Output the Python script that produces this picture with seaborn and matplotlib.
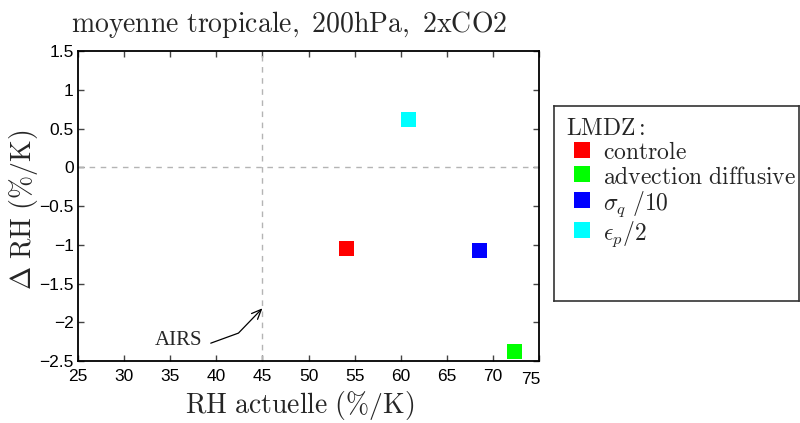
import matplotlib
matplotlib.use('Agg')
import matplotlib.pyplot as plt
import matplotlib.transforms as mtransforms
import seaborn as sns
import pandas as pd

# ---- data ----
series_labels = [r'$\mathrm{controle}$',
                 r'$\mathrm{advection\ diffusive}$',
                 r'$\sigma_q\ /10$',
                 r'$\epsilon_p/2$']
rh_actuelle = [54.1, 72.3, 68.5, 60.8]
delta_rh = [-1.05, -2.38, -1.07, 0.62]
colors = ['#ff0000', '#00ff00', '#0000ff', '#00ffff']
airs_rh = 45.0
airs_arrow_tip = -1.82
xticks = [25, 30, 35, 40, 45, 50, 55, 60, 65, 70, 75]
xtick_labels = ['25', '30', '35', '40', '45', '50', '55', '60', '65', '70', '75']
yticks = [-2.5, -2, -1.5, -1, -0.5, 0, 0.5, 1, 1.5]
ytick_labels = ['\u22122.5', '\u22122', '\u22121.5', '\u22121', '\u22120.5', '0', '0.5', '1', '1.5']

sns.set_style('ticks')
plt.rcParams['mathtext.fontset'] = 'cm'
plt.rcParams['font.family'] = ['Liberation Sans', 'DejaVu Sans']

fig = plt.figure(figsize=(8, 4.23), dpi=100)
ax = fig.add_axes([78 / 800, 62 / 423, 461 / 800, 310 / 423])

df = pd.DataFrame({'x': rh_actuelle, 'y': delta_rh, 'serie': series_labels})
sns.scatterplot(data=df, x='x', y='y', hue='serie', palette=colors,
                marker='s', s=118, linewidth=0, ax=ax, zorder=3)

ax.axvline(airs_rh, color='#b4b4b4', ls=(0, (4, 4)), lw=1, zorder=1)
ax.axhline(0, color='#b4b4b4', ls=(0, (4, 4)), lw=1, zorder=1)

ax.set_xlim(xticks[0], xticks[-1])
ax.set_ylim(yticks[0], yticks[-1])
ax.set_xticks(xticks)
ax.set_xticklabels(xtick_labels)
ax.set_yticks(yticks)
ax.set_yticklabels(ytick_labels)
ax.tick_params(direction='in', top=True, right=True, length=4, width=1,
               color='#444444', labelsize=12.5, labelcolor='black')
ax.tick_params(axis='x', pad=6)
ax.tick_params(axis='y', pad=3)
for sp in ax.spines.values():
    sp.set_linewidth(1.3)
    sp.set_color('black')

# odd placement of the last x tick label
lab75 = ax.get_xticklabels()[-1]
lab75.set_transform(lab75.get_transform() +
                    mtransforms.ScaledTranslation(-8 / 100, -3 / 100, fig.dpi_scale_trans))

ax.set_title(r'$\mathrm{moyenne\ tropicale,\ 200hPa,\ 2xCO2}$', fontsize=20,
             x=(289 - 78) / 461, pad=14)
ax.set_xlabel(r'$\mathrm{RH\ actuelle\ (\%/K)}$', fontsize=20)
ax.xaxis.set_label_coords((300 - 78) / 461, (361 - 405) / 310)
ax.xaxis.label.set_va('center')
ax.set_ylabel(r'$\Delta\ \mathrm{RH}\ (\%/\mathrm{K})$', fontsize=20)
ax.yaxis.set_label_coords((23 - 78) / 461, (361 - 210) / 310)
ax.yaxis.label.set_va('center')

# AIRS annotation
ax.annotate('', xy=(airs_rh, airs_arrow_tip), xytext=(39.4, -2.27),
            arrowprops=dict(arrowstyle='->,head_length=0.7,head_width=0.3',
                            connectionstyle='angle,angleA=20,angleB=46,rad=0',
                            color='black', lw=0.9, shrinkA=0, shrinkB=0))
ax.text(38.45, -2.23, 'AIRS', ha='right', va='center',
        fontfamily='Liberation Serif', fontsize=15)

# legend box
handles, labels = ax.get_legend_handles_labels()
if ax.get_legend() is not None:
    ax.get_legend().remove()
lax = fig.add_axes([554 / 800, (423 - 301) / 423, 245 / 800, 195 / 423])
lax.set_xticks([])
lax.set_yticks([])
for sp in lax.spines.values():
    sp.set_linewidth(1.2)
    sp.set_color('#333333')
leg = lax.legend(handles, labels, title=r'$\mathrm{LMDZ:}$', loc='upper left',
                 frameon=False, fontsize=17, title_fontsize=17, alignment='left',
                 borderaxespad=0, borderpad=0.5, handlelength=1.36,
                 handleheight=1.05, handletextpad=0.2, labelspacing=0.02,
                 markerscale=1.0)

fig.savefig('out.png', dpi=100)
